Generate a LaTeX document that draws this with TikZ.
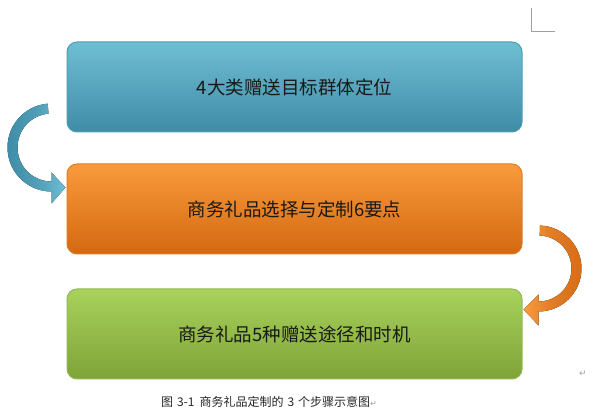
\documentclass[tikz,border=0pt]{standalone}
\usepackage{fontspec}
\usepackage{tikz}
\usetikzlibrary{positioning}
\usetikzlibrary{calc}
\newfontfamily\cjk{Noto Sans CJK SC}
\newfontfamily\symb{DejaVu Sans}
\definecolor{lblue}{HTML}{6EBED3}
\definecolor{dblue}{HTML}{3F8CA7}
\definecolor{eblue}{HTML}{4F9CB6}
\definecolor{lorange}{HTML}{F99B3C}
\definecolor{dorange}{HTML}{D46810}
\definecolor{eorange}{HTML}{E07B26}
\definecolor{lgreen}{HTML}{A9D25C}
\definecolor{dgreen}{HTML}{7EA338}
\definecolor{egreen}{HTML}{93B957}
\definecolor{markgray}{HTML}{A0A0A0}

\begin{document}
\begin{tikzpicture}[x=1pt, y=1pt,
    stepbox/.style={rounded corners=10pt, minimum width=455pt, minimum height=90pt,
      line width=1pt, font=\cjk\fontsize{18.5}{20}\selectfont, text=black!90, inner sep=0pt}]
      \useasboundingbox (0, 0) rectangle (597, 415);

      \node [stepbox, draw=eblue, top color=lblue, bottom color=dblue] (target) at (294.5, 328) {4大类赠送目标群体定位};
      \node [stepbox, draw=eorange, top color=lorange, bottom color=dorange, below=31pt of target] (select) {商务礼品选择与定制6要点};
      \node [stepbox, draw=egreen, top color=lgreen, bottom color=dgreen, below=34pt of select] (deliver) {商务礼品5种赠送途径和时机};

      \coordinate (c1) at ($(target.west)!0.5!(select.west) + (-15, 0.5)$);
      \coordinate (c2) at ($(select.east)!0.5!(deliver.east) + (16, 3)$);

      \fill [left color=dblue, right color=lblue, middle color=eblue] ($(c1)+(95:44)$) arc [start angle=95, end angle=270, radius=44] -- ($(c1)+(0,-56)$) -- ($(c1)+(14,-40)$) -- ($(c1)+(0,-25)$) -- ($(c1)+(0,-34)$) arc [start angle=270, end angle=95, radius=34] -- cycle;
      \fill [left color=lorange, right color=dorange!90!lorange, middle color=eorange] ($(c2)+(88:43)$) arc [start angle=88, end angle=-90, radius=43] -- ($(c2)+(0,-57)$) -- ($(c2)+(-15,-41)$) -- ($(c2)+(0,-26)$) -- ($(c2)+(0,-33)$) arc [start angle=-90, end angle=88, radius=33] -- cycle;

      \draw [markgray, line width=0.8pt] (531, 407) -- (531, 384) -- (555, 384);
      \node [text=markgray, font=\symb\fontsize{9}{10}\selectfont] (mark) at (583, 41) {↵};
      \node [font=\cjk\fontsize{12}{13}\selectfont, text=black!85, inner sep=0pt] (caption) at (269, 13) {图\hspace{4pt}3-1\hspace{5pt}商务礼品定制的\hspace{4pt}3\hspace{4pt}个步骤示意图{\symb\color{markgray}\fontsize{8}{10}\selectfont ↵}};
    \end{tikzpicture}
\end{document}
